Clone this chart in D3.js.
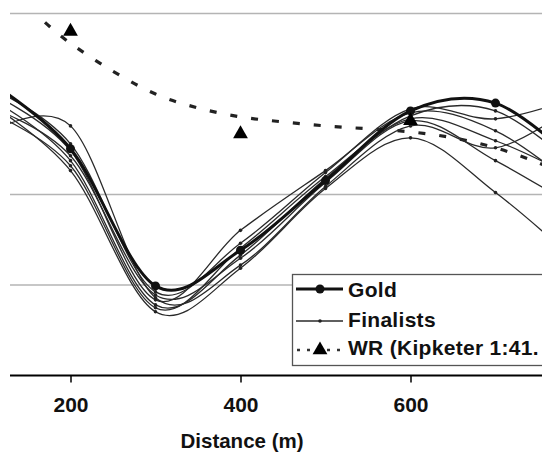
<!DOCTYPE html>
<html><head><meta charset="utf-8">
<script src="https://cdn.jsdelivr.net/npm/d3@7"></script>
<style>html,body{margin:0;padding:0;background:#fff;}svg{display:block;}</style>
</head><body>
<svg id="chart" width="542" height="452"></svg>
<script>
// ---- data ----
const distances = [100, 200, 300, 400, 500, 600, 700, 800];
const goldSpeed = [8.137, 7.753, 6.995, 7.192, 7.577, 7.962, 8.005, 7.659];
const finalist1 = [7.824, 7.879, 6.929, 7.110, 7.544, 7.879, 7.758, 8.016];
const finalist2 = [8.099, 7.780, 6.962, 7.231, 7.621, 7.973, 7.918, 8.044];
const finalist3 = [8.044, 7.687, 6.890, 7.165, 7.588, 7.934, 7.962, 7.632];
const finalist4 = [8.016, 7.632, 6.852, 7.093, 7.533, 7.813, 7.511, 7.110];
const finalist5 = [8.071, 7.742, 6.918, 7.302, 7.632, 7.951, 7.852, 7.522];
const finalist6 = [7.989, 7.714, 6.945, 7.148, 7.566, 7.907, 7.687, 7.412];
const finalist7 = [7.962, 7.659, 6.874, 7.203, 7.599, 7.918, 7.797, 7.577];
const wrDistances = [200, 400, 600];
const wrSpeed = [8.401, 7.835, 7.907];
const wrTrendDist = [170, 200, 250, 300, 350, 400, 450, 500, 550, 600, 650, 700, 750, 800];
const wrTrendVal = [8.451, 8.335, 8.181, 8.055, 7.978, 7.929, 7.901, 7.879, 7.863, 7.846, 7.813, 7.758, 7.676, 7.577];
const xTicks = [200, 400, 600];
const gridValues = [7.0, 7.5, 8.5];
const legendLabels = ["Gold", "Finalists", "WR (Kipketer 1:41."];
const xTitle = "Distance (m)";

// ---- drawing ----
const svg = d3.select("#chart");
const left = 10, right = 542, axisY = 375.5;
const x = d3.scaleLinear().domain([200, 600]).range([70.5, 410.5]);
const y = d3.scaleLinear().domain([7.0, 7.5]).range([285, 194.5]);
const font = "'Liberation Sans', Arial, sans-serif";

svg.append("defs").append("clipPath").attr("id", "plotclip")
  .append("rect").attr("x", left).attr("y", 0).attr("width", right - left).attr("height", axisY);

// grid lines
svg.append("g").selectAll("line").data(gridValues).join("line")
  .attr("x1", left).attr("x2", right)
  .attr("y1", d => y(d)).attr("y2", d => y(d))
  .attr("stroke", "#b4b4b4").attr("stroke-width", 1.6);

const plot = svg.append("g").attr("clip-path", "url(#plotclip)");
const line = d3.line().curve(d3.curveCatmullRom.alpha(0))
  .x(d => x(d[0])).y(d => y(d[1]));

// WR trend (dashed)
plot.append("path")
  .attr("d", line(wrTrendDist.map((d, i) => [d, wrTrendVal[i]])))
  .attr("fill", "none").attr("stroke", "#222").attr("stroke-width", 3.2)
  .attr("stroke-dasharray", "7,14");

// finalists
const finalists = [finalist1, finalist2, finalist3, finalist4, finalist5, finalist6, finalist7];
finalists.forEach(series => {
  const pts = distances.map((d, i) => [d, series[i]]);
  plot.append("path").attr("d", line(pts))
    .attr("fill", "none").attr("stroke", "#2a2a2a").attr("stroke-width", 1.3);
  plot.append("g").selectAll("circle").data(pts).join("circle")
    .attr("cx", d => x(d[0])).attr("cy", d => y(d[1])).attr("r", 1.8).attr("fill", "#222");
});

// gold
const goldPts = distances.map((d, i) => [d, goldSpeed[i]]);
plot.append("path").attr("d", line(goldPts))
  .attr("fill", "none").attr("stroke", "#111").attr("stroke-width", 3);
plot.append("g").selectAll("circle").data(goldPts).join("circle")
  .attr("cx", d => x(d[0])).attr("cy", d => y(d[1])).attr("r", 4.5).attr("fill", "#111");

// WR triangles
const tri = d3.symbol().type(d3.symbolTriangle).size(95);
plot.append("g").selectAll("path").data(wrDistances.map((d, i) => [d, wrSpeed[i]])).join("path")
  .attr("d", tri).attr("transform", d => `translate(${x(d[0])},${y(d[1])})`).attr("fill", "#000");

// x axis
const axis = svg.append("g").attr("transform", `translate(0,${axisY})`)
  .call(d3.axisBottom(x).tickValues(xTicks).tickSize(7).tickPadding(15).tickFormat(d3.format("d")));
axis.select(".domain").remove();
axis.append("line").attr("x1", left).attr("x2", right).attr("y1", 0).attr("y2", 0)
  .attr("stroke", "#000").attr("stroke-width", 2.2);
axis.selectAll(".tick line").attr("stroke", "#000").attr("stroke-width", 1.5);
axis.selectAll(".tick text").attr("font-family", font).attr("font-size", 21)
  .attr("font-weight", "bold").attr("fill", "#111");

svg.append("text").attr("x", 242).attr("y", 448).attr("text-anchor", "middle")
  .attr("font-family", font).attr("font-size", 20.5).attr("font-weight", "bold").attr("fill", "#111")
  .text(xTitle);

// legend
const lg = svg.append("g");
lg.append("rect").attr("x", 292.5).attr("y", 274.5).attr("width", 270).attr("height", 91)
  .attr("fill", "#fff").attr("stroke", "#555").attr("stroke-width", 1.3);
const rows = [289, 321, 350];
// gold sample
lg.append("line").attr("x1", 296).attr("x2", 343).attr("y1", rows[0]).attr("y2", rows[0])
  .attr("stroke", "#111").attr("stroke-width", 3);
lg.append("circle").attr("cx", 320).attr("cy", rows[0]).attr("r", 4.5).attr("fill", "#111");
// finalists sample
lg.append("line").attr("x1", 296).attr("x2", 343).attr("y1", rows[1]).attr("y2", rows[1])
  .attr("stroke", "#2a2a2a").attr("stroke-width", 1.3);
lg.append("circle").attr("cx", 320).attr("cy", rows[1]).attr("r", 1.8).attr("fill", "#222");
// WR sample
lg.append("line").attr("x1", 297).attr("x2", 343).attr("y1", rows[2]).attr("y2", rows[2])
  .attr("stroke", "#333").attr("stroke-width", 2.5).attr("stroke-dasharray", "3,7");
lg.append("path").attr("d", tri).attr("transform", `translate(320,${rows[2]})`).attr("fill", "#000");
lg.selectAll("text.lab").data(legendLabels).join("text").attr("class", "lab")
  .attr("x", 348).attr("y", (d, i) => [297, 327, 355][i])
  .attr("font-family", font).attr("font-size", 21).attr("font-weight", "bold").attr("fill", "#111")
  .attr("letter-spacing", 0.3)
  .text(d => d);
</script>
</body></html>
